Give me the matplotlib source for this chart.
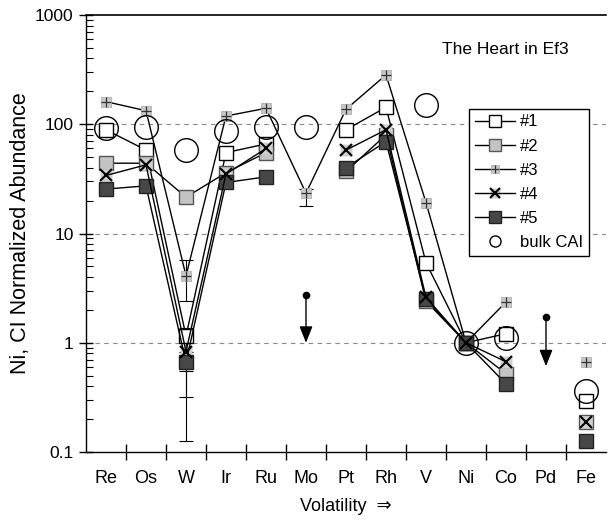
import numpy as np
import matplotlib
matplotlib.use('Agg')
import matplotlib.pyplot as plt
from matplotlib.legend_handler import HandlerTuple
from matplotlib.ticker import LogLocator, NullFormatter, FixedLocator

plt.rcParams['font.family'] = ['Liberation Sans', 'DejaVu Sans']

nan = np.nan

# elements in order of volatility
elements = ['Re', 'Os', 'W', 'Ir', 'Ru', 'Mo', 'Pt', 'Rh', 'V', 'Ni', 'Co', 'Pd', 'Fe']

# Ni, CI normalized abundances per inclusion
s1 = [89, 58, 1.15, 55, 66, nan, 89, 143, 5.4, 1.0, 1.21, nan, 0.29]
s2 = [44, 44, 21.5, 36, 55, nan, 37, 80, 2.4, 1.0, 0.52, nan, 0.19]
s3 = [161, 133, 4.1, 119, 140, 23.4, 137, 283, 19.2, 1.0, 2.36, nan, 0.67]
s4 = [34, 42.5, 0.83, 35, 60, nan, 58, 89, 2.6, 1.0, 0.67, nan, 0.19]
s5 = [25.5, 27.3, 0.66, 29.3, 33, nan, 40, 69.5, 2.5, 1.0, 0.42, nan, 0.127]
bulk = [92, 95, 58, 86, 95, 95, nan, nan, 150, 1.0, 1.1, nan, 0.36]

# error bars (element, value, low, high)
err_elem = ['W', 'W', 'W', 'W', 'Mo']
err_val = [4.1, 1.15, 0.83, 0.66, 23.4]
err_low = [2.4, 0.32, 0.55, 0.125, 17.9]
err_high = [5.7, 1.37, 0.83, 0.66, 25.5]

# upper limits (arrows)
lim_elem = ['Mo', 'Pd']
lim_top = [2.75, 1.72]
lim_tip = [1.0, 0.61]

x = np.arange(len(elements))
ix = {e: i for i, e in enumerate(elements)}

fig = plt.figure(figsize=(6.08, 5.22), dpi=100)
ax = fig.add_axes([86 / 608, 70 / 522, 520 / 608, 437 / 522])
ax.set_yscale('log')
ax.set_ylim(0.1, 1000)
ax.set_xlim(-0.5, len(elements) - 0.5)

for yv in [1, 10, 100]:
    ax.axhline(yv, color='#888888', lw=0.8, ls=(0, (4, 4)), zorder=0)

# error bars
for e, v, lo, hi in zip(err_elem, err_val, err_low, err_high):
    ax.errorbar(ix[e], v, yerr=[[v - lo], [hi - v]], fmt='none', ecolor='black',
                elinewidth=0.8, capsize=5, capthick=0.8, zorder=1)

lw = 1.0
h1, = ax.plot(x, s1, '-', color='black', lw=lw, marker='s', ms=10,
              mfc='white', mec='black', mew=1.0, zorder=3)
h2, = ax.plot(x, s2, '-', color='black', lw=lw, marker='s', ms=10,
              mfc='#c4c4c4', mec='#555555', mew=1.0, zorder=3)
h3a, = ax.plot(x, s3, '-', color='black', lw=lw, marker='s', ms=7.5,
               mfc='#c8c8c8', mec='#b0b0b0', mew=0.6, zorder=3)
h3b, = ax.plot(x, s3, 'none', marker='+', ms=7.5, mec='#333333', mew=0.9, zorder=4)
h4a, = ax.plot(x, s4, 'none', marker='s', ms=8, mfc='#cfcfcf', mec='none', zorder=3)
h4b, = ax.plot(x, s4, '-', color='black', lw=lw, marker='x', ms=9,
               mec='black', mew=1.5, zorder=4)
h5, = ax.plot(x, s5, '-', color='black', lw=lw, marker='s', ms=9.5,
              mfc='#474747', mec='#222222', mew=1.0, zorder=3)
hb, = ax.plot(x, bulk, 'none', marker='o', ms=17, mfc='none', mec='black',
              mew=1.0, zorder=5)

# upper-limit arrows
for e, top, tip in zip(lim_elem, lim_top, lim_tip):
    ax.annotate('', xy=(ix[e], tip), xytext=(ix[e], top),
                arrowprops=dict(arrowstyle='-|>,head_width=0.4,head_length=1.0',
                                color='black', lw=1.0, shrinkA=0, shrinkB=0))
    ax.plot(ix[e], top, 'o', color='black', ms=4.5, zorder=5)

# axes styling
ax.spines['right'].set_visible(False)
ax.spines['top'].set_linewidth(1.2)
ax.spines['left'].set_linewidth(1.0)
ax.spines['bottom'].set_linewidth(1.0)

ax.set_xticks(x)
ax.set_xticklabels(elements, fontsize=13)
ax.tick_params(axis='x', which='major', length=0, pad=13)
ax.xaxis.set_minor_locator(FixedLocator(np.arange(0.5, len(elements) - 0.5, 1)))
ax.tick_params(axis='x', which='minor', direction='inout', length=11, width=1.0)

ax.set_yticks([0.1, 1, 10, 100, 1000])
ax.set_yticklabels(['0.1', '1', '10', '100', '1000'], fontsize=12.5)
ax.yaxis.set_minor_locator(LogLocator(base=10, subs=np.arange(2, 10), numticks=10))
ax.yaxis.set_minor_formatter(NullFormatter())
ax.tick_params(axis='y', which='major', direction='inout', length=10, width=1.0, pad=4)
ax.tick_params(axis='y', which='minor', direction='in', length=5, width=0.8)

ax.set_ylabel('Ni, CI Normalized Abundance', fontsize=15.5)
ax.yaxis.set_label_coords(-0.105, 0.5)
ax.set_xlabel('Volatility  \u21d2', fontsize=13, labelpad=8)

ax.text(0.685, 0.92, 'The Heart in Ef3', transform=ax.transAxes, fontsize=12.5,
        ha='left', va='center')

leg = ax.legend([h1, h2, (h3a, h3b), (h4a, h4b), h5, hb],
                ['#1', '#2', '#3', '#4', '#5', 'bulk CAI'],
                handler_map={tuple: HandlerTuple(ndivide=1)},
                loc='upper left', bbox_to_anchor=(0.72, 0.805),
                fontsize=12, frameon=True, fancybox=False, edgecolor='black',
                framealpha=1, handlelength=2.4, labelspacing=0.55,
                borderpad=0.35, handletextpad=0.3, markerscale=0.85)
leg.get_frame().set_linewidth(1.0)
leg.legend_handles[5].set_markersize(8)

fig.savefig('out.png', dpi=100)
